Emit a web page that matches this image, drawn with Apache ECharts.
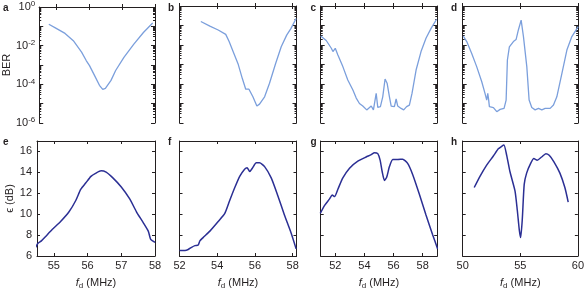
<!DOCTYPE html>
<html><head><meta charset="utf-8">
<script src="https://cdn.jsdelivr.net/npm/echarts@6/dist/echarts.min.js"></script>
<style>html,body{margin:0;padding:0;background:#fff}#c{width:587px;height:291px}</style>
</head><body><div id="c"></div><script>
// ---- data ----
const aX = [54.79,55.0,55.28,55.53,55.78,55.92,56.02,56.17,56.32,56.42,56.5,56.67,56.81,57.06,57.36,57.65,57.93];
const aY = [0.129,0.081,0.043,0.018,4.6e-3,1.7e-3,9.3e-4,2.9e-4,8.9e-5,5.5e-5,6.2e-5,1.6e-4,5.2e-4,2.5e-3,1.2e-2,4.8e-2,0.15];
const bX = [53.13,53.61,54.05,54.45,54.63,54.84,55.1,55.33,55.51,55.68,55.89,56.1,56.24,56.51,56.77,57.09,57.39,57.68,57.91,58.18];
const bY = [0.16,0.093,0.059,0.035,0.015,4.6e-3,1.1e-3,1.9e-4,5.4e-5,5.4e-5,2.2e-5,7.4e-6,9.3e-6,2.2e-5,1.1e-4,1.1e-3,8.1e-3,3.2e-2,7.1e-2,0.23];
const cX = [51.0,51.38,51.73,51.84,52.0,52.18,52.52,52.86,53.21,53.44,53.66,53.89,54.16,54.47,54.62,54.81,54.92,55.1,55.26,55.42,55.56,55.72,55.84,56.06,56.18,56.29,56.52,56.7,56.9,57.09,57.27,57.55,57.89,58.23,58.58,58.96];
const cY = [0.029,0.017,6.8e-3,4.6e-3,6.8e-3,3.1e-3,7.8e-4,1.6e-4,4.9e-5,1.9e-5,1.0e-5,7.4e-6,4.7e-6,7.4e-6,4.7e-6,3.3e-5,6.3e-6,6.9e-6,2.2e-5,1.8e-4,1.1e-4,2.2e-5,7.4e-6,6.9e-6,1.7e-5,7.4e-6,5.6e-6,4.7e-6,6.9e-6,8.3e-6,3.3e-5,5.2e-4,4.6e-3,2.2e-2,7.1e-2,0.21];
const dX = [50.05,50.35,50.78,51.21,51.65,51.93,52.08,52.17,52.25,52.31,52.66,52.95,53.24,53.58,53.76,53.87,54.04,54.39,54.62,54.82,55.06,55.26,55.55,55.75,55.98,56.27,56.56,56.85,57.14,57.57,57.86,58.15,58.59,59.02,59.45,60.0];
const dY = [0.029,0.015,3.7e-3,7.8e-4,1.3e-4,3.3e-5,1.5e-5,3.3e-5,1.5e-5,6.9e-6,6.2e-6,3.8e-6,5.0e-6,5.6e-6,1.5e-5,1.7e-3,8.1e-3,0.015,0.019,0.059,0.19,0.027,7.8e-4,1.5e-5,6.2e-6,4.7e-6,5.6e-6,4.7e-6,5.6e-6,5.6e-6,8.3e-6,2.2e-5,3.5e-4,5.5e-3,0.027,0.087];
const eX = [54.46,54.53,54.63,54.75,54.95,55.2,55.45,55.65,55.8,55.95,56.1,56.25,56.4,56.55,56.75,57.0,57.25,57.45,57.65,57.8,57.87,57.93,58.0];
const eY = [6.83,7.23,7.45,7.85,8.53,9.3,10.23,11.31,12.39,13.0,13.62,13.93,14.15,14.02,13.47,12.6,11.46,10.23,9.2,8.38,7.6,7.45,7.3];
const fX = [52.0,52.29,52.46,52.64,52.82,52.99,53.08,53.25,53.61,54.05,54.4,54.66,54.93,55.19,55.45,55.58,55.72,55.86,56.07,56.24,56.51,56.86,57.21,57.56,57.91,58.18];
const fY = [6.53,6.53,6.62,6.83,6.99,7.05,7.45,7.76,8.38,9.3,10.07,11.31,12.55,13.62,14.3,14.45,14.08,14.4,14.92,14.92,14.55,13.47,11.77,9.92,8.22,6.68];
const gX = [50.97,51.27,51.61,51.79,51.95,52.18,52.52,52.98,53.55,54.12,54.47,54.69,54.92,55.08,55.22,55.38,55.53,55.72,55.95,56.29,56.63,56.97,57.32,57.77,58.23,58.68,59.03];
const gY = [10.07,10.84,11.46,11.83,11.68,12.39,13.47,14.4,15.07,15.47,15.69,15.88,15.79,15.17,14.08,13.22,13.53,14.55,15.23,15.23,15.26,14.86,13.78,11.93,9.92,8.06,6.68];
const hX = [51.0,51.5,52.08,52.66,53.09,53.38,53.58,53.82,54.1,54.54,54.74,54.91,55.03,55.17,55.34,55.55,55.9,56.18,56.47,56.85,57.22,57.51,57.92,58.44,58.87,59.16];
const hY = [12.55,13.62,14.7,15.56,16.25,16.49,16.62,15.63,14.08,12.23,10.38,8.53,7.76,9.45,12.85,13.93,14.86,15.32,15.17,15.47,15.79,15.63,15.01,13.93,12.55,11.16];

// ticks
const xTicksA = [55,56,57,58];
const xTicksB = [52,54,56,58];
const xTicksC = [52,54,56,58];
const xTicksD = [50,55,60];
const epsTicks = [6,8,10,12,14,16];

// ---- layout ----
const FONT = '"Liberation Sans", Arial, sans-serif';
const INK = '#231f20';
const TOPC = '#7b9fdc';
const BOTC = '#2b2f94';
const cols = [
  {left:37, width:118, xmin:54.5, xmax:58, ticks:xTicksA},
  {left:179.5, width:117, xmin:52, xmax:58.2, ticks:xTicksB},
  {left:320.7, width:116.5, xmin:51, xmax:59, ticks:xTicksC},
  {left:462.7, width:115.5, xmin:50, xmax:60, ticks:xTicksD}
];
const rows = [{top:6, height:117}, {top:141, height:118}];
const topData = [[aX,aY],[bX,bY],[cX,cY],[dX,dY]];
const botData = [[eX,eY],[fX,fY],[gX,gY],[hX,hY]];
const letters = [['a','b','c','d'],['e','f','g','h']];
const letterX = [3,168,310.5,451];
const letterY = [3,137];

const minorLog = [];
for (let n=-6; n<0; n++) for (let k=2; k<=9; k++) minorLog.push(n + Math.log10(k));

const grid=[], xAxis=[], yAxis=[], series=[], graphic=[];
const axLine = {show:true, lineStyle:{color:INK, width:1}};

for (let r=0; r<2; r++) {
  for (let c=0; c<4; c++) {
    const gi = grid.length;
    const col = cols[c], row = rows[r];
    grid.push({left:col.left, top:row.top, width:col.width, height:row.height, containLabel:false});
    const xb = xAxis.length;
    const xMain = {
      type:'value', gridIndex:gi, position:'bottom', min:col.xmin, max:col.xmax,
      axisLine:axLine, splitLine:{show:false},
      axisTick:{show:true, inside:true, length:3, customValues:col.ticks, lineStyle:{color:INK}},
      axisLabel:{show:r===1, customValues:col.ticks, margin:4, fontSize:11, color:INK, fontFamily:FONT}
    };
    if (r===1) {
      xMain.name = '{i|f}{d|d}{n| (MHz)}';
      xMain.nameLocation = 'middle';
      xMain.nameGap = 20;
      xMain.nameTextStyle = {fontFamily:FONT, color:INK, rich:{
        i:{fontStyle:'italic', fontSize:11, fontFamily:FONT, color:INK, lineHeight:14},
        d:{fontSize:8, fontFamily:FONT, color:INK, lineHeight:8, verticalAlign:'bottom', padding:[6,0,0,0]},
        n:{fontSize:11, fontFamily:FONT, color:INK, lineHeight:14}
      }};
    }
    xAxis.push(xMain);
    xAxis.push({type:'value', gridIndex:gi, position:'top', min:col.xmin, max:col.xmax,
      axisLine:axLine, splitLine:{show:false}, axisLabel:{show:false},
      axisTick:{show:true, inside:true, length:3, customValues:col.ticks, lineStyle:{color:INK}}});
    const yb = yAxis.length;
    if (r===0) {
      const lab = {show:c===0, margin:4, color:INK, fontFamily:FONT, showMinLabel:true, showMaxLabel:true,
        formatter:(v)=>{const e=Math.round(Math.log10(v)); if (e%2) return ''; return '{b|10}{s|'+e+'}';},
        rich:{b:{fontSize:11, fontFamily:FONT, color:INK, lineHeight:14}, s:{fontSize:8, fontFamily:FONT, color:INK, lineHeight:8, verticalAlign:'top'}}};
      const yMain = {type:'log', logBase:10, gridIndex:gi, position:'left', min:1e-6, max:1, splitNumber:6,
        axisLine:axLine, splitLine:{show:false},
        axisTick:{show:true, inside:true, length:4, lineStyle:{color:INK}}, axisLabel:lab};
      if (c===0) { yMain.name='BER'; yMain.nameLocation='middle'; yMain.nameGap=22; yMain.nameRotate=90;
        yMain.nameTextStyle={fontSize:11, fontFamily:FONT, color:INK}; }
      yAxis.push(yMain);
      yAxis.push({type:'log', logBase:10, gridIndex:gi, position:'right', min:1e-6, max:1, splitNumber:6,
        axisLine:axLine, splitLine:{show:false}, axisLabel:{show:false},
        axisTick:{show:true, inside:true, length:4, lineStyle:{color:INK}}});
      ['left','right'].forEach(p=>yAxis.push({type:'value', gridIndex:gi, position:p, min:-6, max:0,
        axisLine:{show:false}, splitLine:{show:false}, axisLabel:{show:false},
        axisTick:{show:true, inside:true, length:2, customValues:minorLog, lineStyle:{color:INK}}}));
    } else {
      const yMain = {type:'value', gridIndex:gi, position:'left', min:6, max:17,
        axisLine:axLine, splitLine:{show:false},
        axisTick:{show:true, inside:true, length:3, customValues:epsTicks, lineStyle:{color:INK}},
        axisLabel:{show:c===0, customValues:epsTicks, margin:5, fontSize:11, color:INK, fontFamily:FONT}};
      if (c===0) { yMain.name='\u03f5 (dB)'; yMain.nameLocation='middle'; yMain.nameGap=20; yMain.nameRotate=90;
        yMain.nameTextStyle={fontSize:11, fontFamily:FONT, color:INK}; }
      yAxis.push(yMain);
      yAxis.push({type:'value', gridIndex:gi, position:'right', min:6, max:17,
        axisLine:axLine, splitLine:{show:false}, axisLabel:{show:false},
        axisTick:{show:true, inside:true, length:3, customValues:epsTicks, lineStyle:{color:INK}}});
    }
    const d = r===0 ? topData[c] : botData[c];
    series.push({type:'line', xAxisIndex:xb, yAxisIndex:yb, showSymbol:false, symbol:'none',
      smooth: r===0 ? false : 0.2,
      lineStyle:{color: r===0 ? TOPC : BOTC, width: r===0 ? 1.3 : 1.5},
      data: d[0].map((x,k)=>[x, d[1][k]]), clip:true, animation:false});
    graphic.push({type:'text', left:letterX[c], top:letterY[r],
      style:{text:letters[r][c], font:'bold 10px '+FONT, fill:INK}});
  }
}

const chart = echarts.init(document.getElementById('c'), null, {renderer:'canvas'});
chart.setOption({animation:false, grid, xAxis, yAxis, series, graphic});
</script></body></html>
